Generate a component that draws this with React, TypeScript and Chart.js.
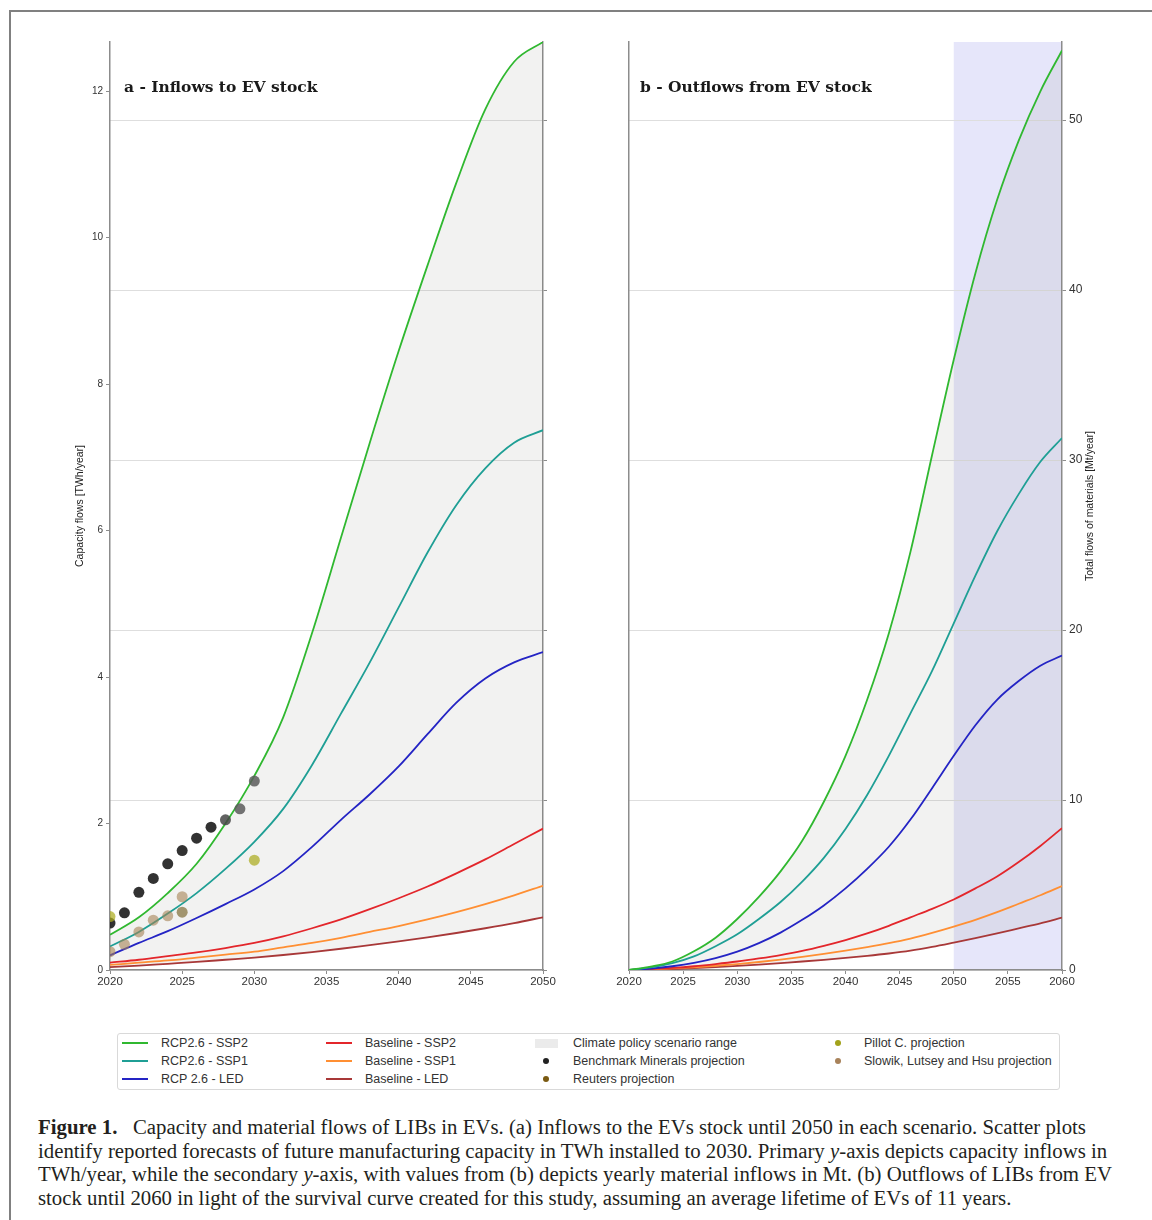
import React, { useEffect, useRef } from 'react';
import { Chart, registerables } from 'chart.js';

Chart.register(...registerables);

// ---------------- DATA ----------------
const inflowYears = [2020, 2022, 2024, 2026, 2028, 2030, 2032, 2034, 2036, 2038, 2040, 2042, 2044, 2046, 2048, 2050];
const inRcpSsp2 = [0.48, 0.72, 1.05, 1.45, 2.0, 2.65, 3.45, 4.6, 5.9, 7.2, 8.45, 9.62, 10.75, 11.75, 12.4, 12.67];
const inRcpSsp1 = [0.32, 0.52, 0.77, 1.05, 1.38, 1.75, 2.2, 2.8, 3.5, 4.2, 4.95, 5.7, 6.35, 6.85, 7.2, 7.37];
const inRcpLed = [0.2, 0.37, 0.53, 0.71, 0.9, 1.1, 1.35, 1.68, 2.05, 2.4, 2.78, 3.22, 3.65, 3.98, 4.2, 4.34];
const inBaseSsp2 = [0.1, 0.14, 0.19, 0.24, 0.3, 0.37, 0.46, 0.57, 0.69, 0.83, 0.98, 1.14, 1.32, 1.51, 1.72, 1.93];
const inBaseSsp1 = [0.07, 0.1, 0.13, 0.17, 0.21, 0.25, 0.31, 0.37, 0.44, 0.52, 0.6, 0.69, 0.79, 0.9, 1.02, 1.15];
const inBaseLed = [0.04, 0.06, 0.085, 0.11, 0.14, 0.17, 0.205, 0.245, 0.29, 0.34, 0.39, 0.445, 0.505, 0.57, 0.64, 0.72];

const benchmarkYears = [2020, 2021, 2022, 2023, 2024, 2025, 2026, 2027, 2028, 2029, 2030];
const benchmarkValues = [0.64, 0.78, 1.06, 1.25, 1.45, 1.63, 1.8, 1.95, 2.05, 2.2, 2.58];
const pillotYears = [2020, 2030];
const pillotValues = [0.73, 1.5];
const slowikYears = [2020, 2021, 2022, 2023, 2024, 2025];
const slowikValues = [0.25, 0.35, 0.52, 0.68, 0.74, 1.0];
const reutersYears = [2025];
const reutersValues = [0.79];

const outflowYears = [2020, 2022, 2024, 2026, 2028, 2030, 2032, 2034, 2036, 2038, 2040, 2042, 2044, 2046, 2048, 2050, 2052, 2054, 2056, 2058, 2060];
const outRcpSsp2 = [0, 0.2, 0.5, 1.1, 1.9, 3.0, 4.3, 5.8, 7.6, 9.9, 12.6, 15.9, 19.8, 24.6, 30.3, 35.9, 41.0, 45.3, 48.8, 51.7, 54.1];
const outRcpSsp1 = [0, 0.15, 0.4, 0.8, 1.4, 2.1, 3.0, 4.0, 5.2, 6.6, 8.3, 10.3, 12.6, 15.1, 17.6, 20.4, 23.2, 25.8, 28.0, 29.9, 31.3];
const outRcpLed = [0, 0.08, 0.22, 0.42, 0.7, 1.08, 1.58, 2.2, 2.95, 3.8, 4.8, 5.95, 7.25, 8.85, 10.7, 12.6, 14.4, 15.9, 17.0, 17.9, 18.5];
const outBaseSsp2 = [0, 0.05, 0.12, 0.22, 0.35, 0.5, 0.68, 0.88, 1.12, 1.42, 1.76, 2.15, 2.6, 3.1, 3.6, 4.15, 4.8, 5.5, 6.35, 7.3, 8.35];
const outBaseSsp1 = [0, 0.035, 0.09, 0.16, 0.25, 0.35, 0.47, 0.61, 0.77, 0.95, 1.14, 1.35, 1.58, 1.85, 2.18, 2.55, 2.95, 3.4, 3.9, 4.4, 4.94];
const outBaseLed = [0, 0.02, 0.06, 0.11, 0.17, 0.24, 0.32, 0.41, 0.5, 0.6, 0.71, 0.83, 0.97, 1.14, 1.36, 1.61, 1.87, 2.15, 2.45, 2.75, 3.08];

const inflowXTicks = [2020, 2025, 2030, 2035, 2040, 2045, 2050];
const outflowXTicks = [2020, 2025, 2030, 2035, 2040, 2045, 2050, 2055, 2060];
const capacityTicks = [0, 2, 4, 6, 8, 10, 12];
const materialTicks = [0, 10, 20, 30, 40, 50];
const capacityMax = 12.67;
const materialMax = 54.6;
const shadeRange = [2050, 2060];

const seriesLabels = ['RCP2.6 - SSP2', 'RCP2.6 - SSP1', 'RCP 2.6 - LED', 'Baseline - SSP2', 'Baseline - SSP1', 'Baseline - LED'];

// ---------------- STYLES ----------------
const GREEN = '#30b830';
const TEAL = '#1f9f95';
const BLUE = '#2424c4';
const RED = '#e3262b';
const ORANGE = '#ff8f33';
const BROWN = '#a83838';
const FILL = 'rgba(128,128,118,0.1)';
const AXIS = '#8c8c8c';
const SANS = '"Liberation Sans", Arial, Helvetica, sans-serif';

const benchmarkColors = benchmarkYears.map((_, i) =>
  i < 8 ? 'rgba(28,28,28,0.9)' : i === 8 ? 'rgba(70,70,70,0.85)' : 'rgba(92,92,92,0.85)'
);

Chart.defaults.font.family = SANS;
Chart.defaults.color = '#333';

const pts = (xs: number[], ys: number[]) => xs.map((x, i) => ({ x, y: ys[i] }));

const lineDs = (label: string, xs: number[], ys: number[], color: string, extra: any = {}) => ({
  label,
  data: pts(xs, ys),
  yAxisID: 'y',
  borderColor: color,
  backgroundColor: color,
  borderWidth: 1.8,
  pointRadius: 0,
  cubicInterpolationMode: 'monotone',
  fill: false,
  ...extra,
});

const dotDs = (label: string, xs: number[], ys: number[], color: any) => ({
  label,
  data: pts(xs, ys),
  yAxisID: 'y',
  showLine: false,
  pointRadius: 5.5,
  pointBorderWidth: 0,
  pointBackgroundColor: color,
  borderColor: 'rgba(0,0,0,0)',
  backgroundColor: color,
  fill: false,
});

const tickSetter = (values: number[]) => (scale: any) => {
  scale.ticks = values.map((v) => ({ value: v }));
};

const textPlugin = (title: string, yTitle: string, titleSide: 'left' | 'right', shade: boolean, titleDx: number) => ({
  id: 'texts',
  beforeDraw(chart: any) {
    if (!shade) return;
    const { ctx, chartArea, scales } = chart;
    const x0 = scales.x.getPixelForValue(shadeRange[0]);
    const x1 = scales.x.getPixelForValue(shadeRange[1]);
    ctx.save();
    ctx.fillStyle = '#e6e6fa';
    ctx.fillRect(x0, chartArea.top, x1 - x0, chartArea.bottom - chartArea.top);
    ctx.restore();
  },
  afterDraw(chart: any) {
    const { ctx, chartArea } = chart;
    ctx.save();
    ctx.fillStyle = '#1a1a1a';
    ctx.font = 'bold 15.5px "DejaVu Serif", serif';
    ctx.textBaseline = 'middle';
    ctx.textAlign = 'left';
    ctx.fillText(title, chartArea.left + titleDx, chartArea.top + 46);
    ctx.font = '10.5px ' + SANS;
    ctx.fillStyle = '#222';
    const cx = titleSide === 'left' ? chartArea.left - 30 : chartArea.right + 28;
    const cy = (chartArea.top + chartArea.bottom) / 2;
    ctx.translate(cx, cy);
    ctx.rotate(-Math.PI / 2);
    ctx.textAlign = 'center';
    ctx.fillText(yTitle, 0, 0);
    ctx.restore();
  },
});

const commonX = (min: number, max: number, ticks: number[]) => ({
  type: 'linear',
  min,
  max,
  afterBuildTicks: tickSetter(ticks),
  afterFit: (s: any) => {
    s.height = 30;
  },
  ticks: { callback: (v: any) => String(v), font: { size: 11.5 }, color: '#333', padding: 1, maxRotation: 0 },
  grid: { drawOnChartArea: false, tickLength: 4, color: AXIS },
  border: { color: AXIS, width: 1.5 },
});

function buildLeft(): any {
  return {
    type: 'line',
    data: {
      datasets: [
        dotDs('Reuters projection', reutersYears, reutersValues, 'rgba(120,100,40,0.65)'),
        dotDs('Slowik, Lutsey and Hsu projection', slowikYears, slowikValues, 'rgba(165,130,85,0.6)'),
        dotDs('Pillot C. projection', pillotYears, pillotValues, 'rgba(172,172,30,0.72)'),
        dotDs('Benchmark Minerals projection', benchmarkYears, benchmarkValues, benchmarkColors),
        lineDs(seriesLabels[0], inflowYears, inRcpSsp2, GREEN, { fill: { target: 9 }, backgroundColor: FILL }),
        lineDs(seriesLabels[1], inflowYears, inRcpSsp1, TEAL),
        lineDs(seriesLabels[2], inflowYears, inRcpLed, BLUE),
        lineDs(seriesLabels[3], inflowYears, inBaseSsp2, RED),
        lineDs(seriesLabels[4], inflowYears, inBaseSsp1, ORANGE),
        lineDs(seriesLabels[5], inflowYears, inBaseLed, BROWN),
      ],
    },
    options: {
      animation: false,
      responsive: false,
      maintainAspectRatio: false,
      layout: { padding: { top: 42, left: 0, right: 0, bottom: 0 } },
      plugins: {
        legend: { display: false },
        tooltip: { enabled: false },
        filler: { drawTime: 'beforeDatasetsDraw' },
      },
      scales: {
        x: commonX(2020, 2050, inflowXTicks),
        y: {
          position: 'left',
          min: 0,
          max: capacityMax,
          afterBuildTicks: tickSetter(capacityTicks),
          afterFit: (s: any) => {
            s.width = 110;
          },
          ticks: { font: { size: 10 }, color: '#333', padding: 3 },
          grid: { drawOnChartArea: false, tickLength: 4, color: AXIS },
          border: { color: AXIS, width: 1.5 },
        },
        y2: {
          position: 'right',
          min: 0,
          max: materialMax,
          afterBuildTicks: tickSetter(materialTicks),
          afterFit: (s: any) => {
            s.width = 57;
          },
          ticks: { display: false },
          grid: { drawOnChartArea: true, color: '#dedede', lineWidth: 1, tickLength: 4, tickColor: AXIS },
          border: { color: AXIS, width: 1.5 },
        },
      },
    },
    plugins: [textPlugin('a - Inflows to EV stock', 'Capacity flows [TWh/year]', 'left', false, 14)],
  };
}

function buildRight(): any {
  return {
    type: 'line',
    data: {
      datasets: [
        lineDs(seriesLabels[0], outflowYears, outRcpSsp2, GREEN, { fill: { target: 5 }, backgroundColor: FILL }),
        lineDs(seriesLabels[1], outflowYears, outRcpSsp1, TEAL),
        lineDs(seriesLabels[2], outflowYears, outRcpLed, BLUE),
        lineDs(seriesLabels[3], outflowYears, outBaseSsp2, RED),
        lineDs(seriesLabels[4], outflowYears, outBaseSsp1, ORANGE),
        lineDs(seriesLabels[5], outflowYears, outBaseLed, BROWN),
      ],
    },
    options: {
      animation: false,
      responsive: false,
      maintainAspectRatio: false,
      layout: { padding: { top: 42, left: 0, right: 0, bottom: 0 } },
      plugins: {
        legend: { display: false },
        tooltip: { enabled: false },
        filler: { drawTime: 'beforeDatasetsDraw' },
      },
      scales: {
        x: commonX(2020, 2060, outflowXTicks),
        yl: {
          position: 'left',
          min: 0,
          max: 1,
          afterFit: (s: any) => {
            s.width = 29;
          },
          ticks: { display: false },
          grid: { display: false, drawOnChartArea: false, drawTicks: false },
          border: { display: true, color: AXIS, width: 1.5 },
        },
        y: {
          position: 'right',
          min: 0,
          max: materialMax,
          afterBuildTicks: tickSetter(materialTicks),
          afterFit: (s: any) => {
            s.width = 90;
          },
          ticks: { font: { size: 12 }, color: '#333', padding: 3 },
          grid: { drawOnChartArea: true, color: '#dedede', lineWidth: 1, tickLength: 4, tickColor: AXIS },
          border: { color: AXIS, width: 1.5 },
        },
      },
    },
    plugins: [textPlugin('b - Outflows from EV stock', 'Total flows of materials [Mt/year]', 'right', true, 11)],
  };
}

function ChartCanvas({ left, width, build }: { left: number; width: number; build: () => any }) {
  const ref = useRef<HTMLCanvasElement | null>(null);
  useEffect(() => {
    if (!ref.current) return;
    const chart = new Chart(ref.current, build());
    return () => chart.destroy();
  }, [build]);
  return (
    <canvas
      ref={ref}
      width={width}
      height={1000}
      style={{ position: 'absolute', left, top: 0, width, height: 1000 }}
    />
  );
}

type LegendItem = { kind: 'line' | 'patch' | 'dot'; color: string; label: string };
const legendColumns: { markX: number; textX: number; items: LegendItem[] }[] = [
  {
    markX: 122,
    textX: 161,
    items: [
      { kind: 'line', color: GREEN, label: seriesLabels[0] },
      { kind: 'line', color: TEAL, label: seriesLabels[1] },
      { kind: 'line', color: BLUE, label: seriesLabels[2] },
    ],
  },
  {
    markX: 326,
    textX: 365,
    items: [
      { kind: 'line', color: RED, label: seriesLabels[3] },
      { kind: 'line', color: ORANGE, label: seriesLabels[4] },
      { kind: 'line', color: BROWN, label: seriesLabels[5] },
    ],
  },
  {
    markX: 535,
    textX: 573,
    items: [
      { kind: 'patch', color: '#ebebeb', label: 'Climate policy scenario range' },
      { kind: 'dot', color: '#222222', label: 'Benchmark Minerals projection' },
      { kind: 'dot', color: '#7a5a12', label: 'Reuters projection' },
    ],
  },
  {
    markX: 827,
    textX: 864,
    items: [
      { kind: 'dot', color: '#a2a21a', label: 'Pillot C. projection' },
      { kind: 'dot', color: '#a8825a', label: 'Slowik, Lutsey and Hsu projection' },
    ],
  },
];

function Legend() {
  const rowY = [1043, 1061, 1079];
  const els: any[] = [];
  legendColumns.forEach((col, ci) => {
    col.items.forEach((it, ri) => {
      const cy = rowY[ri];
      if (it.kind === 'line') {
        els.push(
          <div key={`m${ci}-${ri}`} style={{ position: 'absolute', left: col.markX, top: cy - 1, width: 26, height: 2, background: it.color }} />
        );
      } else if (it.kind === 'patch') {
        els.push(
          <div key={`m${ci}-${ri}`} style={{ position: 'absolute', left: col.markX, top: cy - 4, width: 23, height: 9, background: it.color }} />
        );
      } else {
        els.push(
          <div
            key={`m${ci}-${ri}`}
            style={{ position: 'absolute', left: col.markX + 8, top: cy - 3, width: 6, height: 6, borderRadius: 3, background: it.color }}
          />
        );
      }
      els.push(
        <div
          key={`t${ci}-${ri}`}
          style={{
            position: 'absolute',
            left: col.textX,
            top: cy - 9,
            height: 18,
            lineHeight: '18px',
            fontFamily: SANS,
            fontSize: 12.5,
            color: '#333',
            whiteSpace: 'nowrap',
          }}
        >
          {it.label}
        </div>
      );
    });
  });
  return (
    <>
      <div
        style={{
          position: 'absolute',
          left: 117,
          top: 1033,
          width: 943,
          height: 57,
          border: '1px solid #d9d9d9',
          borderRadius: 3,
          boxSizing: 'border-box',
        }}
      />
      {els}
    </>
  );
}

function Caption() {
  return (
    <div
      style={{
        position: 'absolute',
        left: 38,
        top: 1115,
        fontFamily: '"Liberation Serif", "Times New Roman", serif',
        fontSize: 20.8,
        lineHeight: '23.7px',
        color: '#231f20',
        whiteSpace: 'pre',
      }}
    >
      <div>
        <b>Figure 1.</b>
        {'\u2002 Capacity and material flows of LIBs in EVs. (a) Inflows to the EVs stock until 2050 in each scenario. Scatter plots'}
      </div>
      <div>identify reported forecasts of future manufacturing capacity in TWh installed to 2030. Primary <i>y</i>-axis depicts capacity inflows in</div>
      <div>TWh/year, while the secondary <i>y</i>-axis, with values from (b) depicts yearly material inflows in Mt. (b) Outflows of LIBs from EV</div>
      <div>stock until 2060 in light of the survival curve created for this study, assuming an average lifetime of EVs of 11 years.</div>
    </div>
  );
}

export default function App() {
  return (
    <div style={{ position: 'absolute', left: 0, top: 0, width: 1152, height: 1220, background: '#fff', overflow: 'hidden' }}>
      <div
        style={{
          position: 'absolute',
          left: 9,
          top: 10,
          width: 1152,
          height: 1220,
          borderTop: '2px solid #808080',
          borderLeft: '2px solid #808080',
        }}
      />
      <ChartCanvas left={0} width={600} build={buildLeft} />
      <ChartCanvas left={600} width={552} build={buildRight} />
      <Legend />
      <Caption />
    </div>
  );
}
